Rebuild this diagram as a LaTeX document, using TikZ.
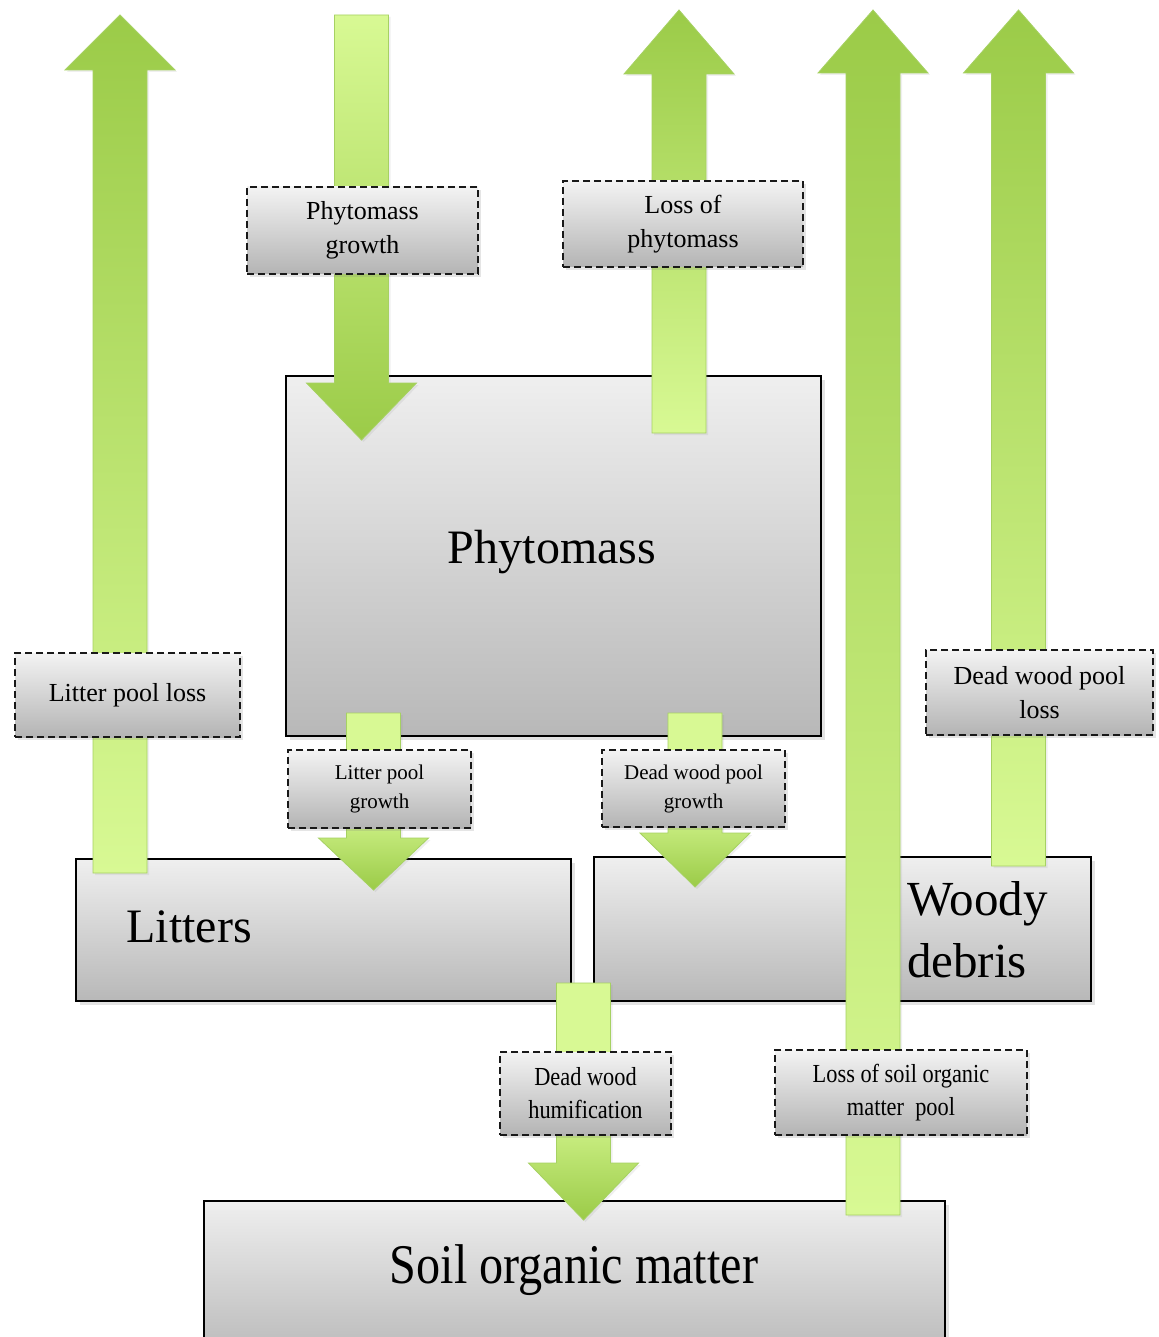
\documentclass[tikz,border=0pt]{standalone}
\usepackage{fontspec}
\setmainfont{Liberation Serif}
\newfontfamily\condfont{Liberation Serif}[FakeStretch=0.86]
\usetikzlibrary{shadows}
\definecolor{gdark}{HTML}{9BCB48}
\definecolor{gmid}{HTML}{BDE270}
\definecolor{glight}{HTML}{D8F994}
\definecolor{gedge}{HTML}{A6D163}
\definecolor{btop}{HTML}{EFEFEF}
\definecolor{bbot}{HTML}{B8B8B8}
\definecolor{ltop}{HTML}{F3F3F3}
\definecolor{lbot}{HTML}{B4B4B4}
% cx, tip y, head base y, bottom y, style
\newcommand\blockup[5]{%
  \shade[#5] (#1-27,#4) -- (#1-27,#3) -- (#1-55,#3) -- (#1,#2) -- (#1+55,#3)
     -- (#1+27,#3) -- (#1+27,#4) -- cycle;}
% cx, top y, head base y, tip y, style
\newcommand\blockdown[5]{%
  \shade[#5] (#1-27,#2) -- (#1-27,#3) -- (#1-55,#3) -- (#1,#4) -- (#1+55,#3)
     -- (#1+27,#3) -- (#1+27,#2) -- cycle;}
\begin{document}
\begin{tikzpicture}[x=1pt,y=-1pt,
  pool/.style={draw=black, line width=1.6pt, top color=btop, bottom color=bbot,
    anchor=north west, inner sep=0pt,
    drop shadow={shadow xshift=4pt, shadow yshift=-4pt, opacity=0.22}},
  flowlbl/.style={draw=black!90, dash pattern=on 7pt off 4pt, line width=1.5pt,
    top color=ltop, bottom color=lbot, align=center, inner sep=0pt,
    drop shadow={shadow xshift=3pt, shadow yshift=-3pt, opacity=0.2}},
  bigfont/.style={font=\fontsize{26}{34}\selectfont},
  smallfont/.style={font=\fontsize{21}{29}\selectfont},
  condlbl/.style={font=\condfont\fontsize{26}{33}\selectfont},
  arrup/.style={draw=gedge, line width=0.8pt, top color=gdark, bottom color=glight,
    drop shadow={shadow xshift=2pt, shadow yshift=-2pt, opacity=0.12}},
  arrdown/.style={draw=gedge, line width=0.8pt, top color=glight, bottom color=gdark,
    drop shadow={shadow xshift=2pt, shadow yshift=-2pt, opacity=0.12}},
  arrdownsmall/.style={draw=gedge, line width=0.8pt, top color=glight, bottom color=gdark,
    middle color=glight,
    drop shadow={shadow xshift=2pt, shadow yshift=-2pt, opacity=0.12}}
]
\fill[white] (0,0) rectangle (1158,1337);
\useasboundingbox (0,0) rectangle (1158,1337);

% pools
\node[pool, minimum width=535pt, minimum height=360pt] (phyto) at (285,375) {};
\node[font=\fontsize{48}{56}\selectfont] (phytotxt) at (552,552) {Phytomass};
\node[pool, minimum width=495pt, minimum height=142pt] (litters) at (75,858) {};
\node[font=\fontsize{48}{56}\selectfont, anchor=base west] (littxt) at (123,942) {Litters};
\node[pool, minimum width=497pt, minimum height=144pt] (woody) at (593,856) {};
\node[font=\fontsize{49}{62}\selectfont, anchor=west, align=left, inner sep=0pt] (woodytxt) at (907,930) {Woody\\debris};
\node[pool, minimum width=741pt, minimum height=160pt] (soil) at (203,1200) {};
\node[font=\condfont\fontsize{56}{62}\selectfont] (soiltxt) at (574,1270) {Soil organic matter};

% flows
\blockup{120}{15}{70}{873}{arrup}
\blockdown{361.5}{15}{383}{440}{arrdown}
\blockup{679}{10}{74}{433}{arrup}
\blockup{873}{10}{73}{1215}{arrup}
\blockup{1018.5}{10}{73}{866}{arrup}
\blockdown{373.5}{713}{838}{890}{arrdownsmall}
\blockdown{695}{713}{833}{887}{arrdownsmall}
\blockdown{583.5}{983}{1163}{1220}{arrdownsmall}

% flow labels
\node[flowlbl, bigfont, minimum width=231pt, minimum height=87pt] (lpg) at (362.5,230.5) {Phytomass\\growth};
\node[flowlbl, bigfont, minimum width=240pt, minimum height=86pt] (llp) at (683,224) {Loss of\\phytomass};
\node[flowlbl, bigfont, minimum width=225pt, minimum height=84pt] (llpl) at (127.5,695) {Litter pool loss};
\node[flowlbl, smallfont, minimum width=183pt, minimum height=78pt] (llpg) at (379.5,789) {Litter pool\\growth};
\node[flowlbl, smallfont, minimum width=183pt, minimum height=77pt] (ldwg) at (693.5,788.5) {Dead wood pool\\growth};
\node[flowlbl, bigfont, minimum width=227pt, minimum height=85pt] (ldwl) at (1039.5,692.5) {Dead wood pool\\loss};
\node[flowlbl, condlbl, minimum width=171pt, minimum height=83pt] (ldwh) at (585.5,1093.5) {Dead wood\\humification};
\node[flowlbl, condlbl, minimum width=252pt, minimum height=85pt] (lsom) at (901,1092.5) {Loss of soil organic\\matter\ \ pool};
\end{tikzpicture}
\end{document}
